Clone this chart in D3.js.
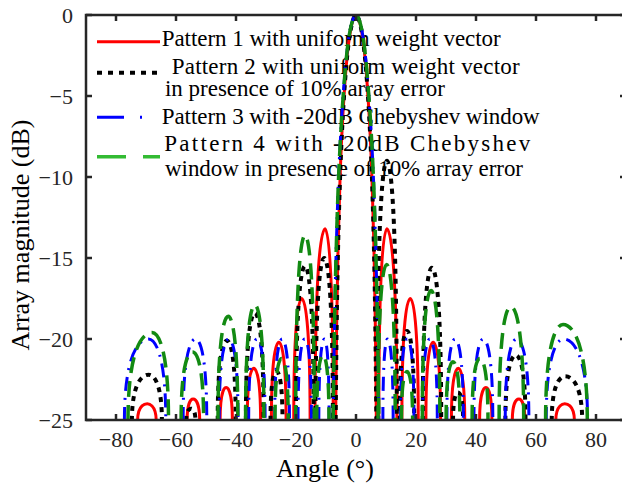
<!DOCTYPE html>
<html><head><meta charset="utf-8">
<script src="https://cdn.jsdelivr.net/npm/d3@7"></script>
<style>body{margin:0;background:#fff}</style></head>
<body><svg id="c" width="622" height="486" font-family="'Liberation Serif', 'Times New Roman', Times, serif"></svg>
<script>
// ---- data (angle in degrees, magnitude in dB) ----
const xTicks = [-80, -60, -40, -20, 0, 20, 40, 60, 80];
const yTicks = [0, -5, -10, -15, -20, -25];

// main lobes: [angle, dB]
const mainUniform = [[-6.78,-25],[-6.5,-20],[-6.05,-15],[-5.3,-10],[-4.32,-6],[-3.18,-3],[-1.86,-1],[0,0],[1.86,-1],[3.18,-3],[4.32,-6],[5.3,-10],[6.05,-15],[6.5,-20],[6.78,-25]];
const mainCheb = [[-7.63,-25],[-7.25,-20],[-6.67,-15],[-5.8,-10],[-4.65,-6],[-3.4,-3],[-2.01,-1],[0,0],[2.01,-1],[3.4,-3],[4.65,-6],[5.8,-10],[6.67,-15],[7.25,-20],[7.63,-25]];

// side lobes: [left foot angle at -25 dB, peak angle, peak dB, right foot angle at -25 dB]
const lobesP1 = [
  [-72.8,-69.6,-24.0,-66.6],[-56.3,-54.3,-23.7,-52.1],[-45.3,-43.3,-23.0,-41.2],[-36.25,-34.1,-21.8,-31.8],
  [-28.2,-25.7,-20.2,-23.3],[-20.75,-18.1,-17.5,-15.3],[-13.65,-10.3,-13.2,-7.6],
  [7.6,10.3,-13.2,13.65],[15.3,18.1,-17.5,20.75],[23.3,25.7,-20.2,28.2],[31.8,34.1,-21.8,36.25],
  [41.2,43.3,-23.0,45.3],[52.1,54.3,-23.7,56.3],[66.6,69.6,-24.0,72.8]
];
const lobesP2 = [
  [-74.7,-69.1,-22.2,-64.7],[-56.6,-55.0,-24.3,-53.5],[-46.1,-43.0,-20.1,-40.1],[-36.7,-33.7,-18.4,-30.8],
  [-28.5,-26.5,-22.0,-24.5],[-20.0,-17.0,-15.5,-14.1],[-13.5,-10.6,-15.0,-7.7],
  [7.04,10.3,-9.0,13.6],[14.6,17.0,-19.5,19.4],[22.25,25.3,-15.6,28.4],[32.35,34.0,-23.3,35.7],
  [49.8,53.3,-21.0,56.5],[65.25,69.7,-22.3,75.4]
];
const lobesP3 = [
  [-77.2,-69.2,-20,-63.4],[-57.63,-53.5,-20,-49.74],[-45.61,-42.4,-20,-39.31],[-35.78,-33.0,-20,-30.3],
  [-27.1,-24.6,-20,-22.18],[-19.33,-17.1,-20,-14.85],[-12.39,-10.5,-20,-8.96],
  [8.96,10.5,-20,12.39],[14.85,17.1,-20,19.33],[22.18,24.6,-20,27.1],[30.3,33.0,-20,35.78],
  [39.31,42.4,-20,45.61],[49.74,53.5,-20,57.63],[63.4,69.2,-20,77.2]
];
const lobesP4 = [
  [-76.0,-68.0,-19.6,-62.5],[-58.3,-54.5,-20.8,-50.8],[-46.0,-42.6,-18.6,-39.4],[-36.8,-33.7,-17.9,-30.7],
  [-27.0,-24.8,-21.2,-22.6],[-20.1,-17.0,-13.6,-13.9],[-13.1,-11.0,-21.0,-9.0],
  [7.35,10.2,-15.4,13.07],[15.14,17.0,-22.0,18.88],[22.11,25.0,-17.0,27.96],[30.04,32.3,-21.4,34.63],
  [38.7,41.3,-21.2,44.0],[47.7,51.6,-18.0,55.9],[63.2,69.0,-19.1,77.1]
];

const legendLabels = [
  ["Pattern 1 with uniform weight vector"],
  ["Pattern 2 with uniform weight vector", "in presence of 10% array error"],
  ["Pattern 3 with -20dB Chebyshev window"],
  ["Pattern 4 with -20dB Chebyshev", "window in presence of 10% array error"]
];
const xTitle = "Angle (°)";
const yTitle = "Array magnitude (dB)";

// ---- drawing ----
const svg = d3.select('#c');
const x = d3.scaleLinear().domain([-90, 90]).range([86, 626]);
const y = d3.scaleLinear().domain([-25, 0]).range([420, 15]);
const axisColor = '#262626';

svg.append('defs').append('clipPath').attr('id','clip')
  .append('rect').attr('x',86).attr('y',15).attr('width',540).attr('height',405);

const series = [
  {main: mainUniform, lobes: lobesP1, color:'#ff0000', width:3,   dash:null,        legendDash:null,          ly:41.7},
  {main: mainUniform, lobes: lobesP2, color:'#000000', width:4,   dash:'5,5',       legendDash:'5,6',         ly:72.7},
  {main: mainCheb,    lobes: lobesP3, color:'#0000ff', width:3,   dash:'14,7,2,7',  legendDash:'27,16,2,30',  ly:117.3},
  {main: mainCheb,    lobes: lobesP4, color:'#128a12', width:3.5, dash:'16,8',      legendDash:'29,17',       ly:156.7, legendColor:'#33bb33'}
];

// legend text (drawn below the curves)
const legendText = [
  {t: legendLabels[0][0], x:161.7, y:46,  w:339},
  {t: legendLabels[1][0], x:171.7, y:73.5,w:348},
  {t: legendLabels[1][1], x:165,   y:95.5,w:280},
  {t: legendLabels[2][0], x:161.7, y:124, w:378},
  {t: legendLabels[3][0], x:164.3, y:150.5,w:366},
  {t: legendLabels[3][1], x:165,   y:175.5,w:358}
];
const lg = svg.append('g');
legendText.forEach(d => {
  lg.append('text').attr('x', d.x).attr('y', d.y).attr('font-size', 23)
    .attr('textLength', d.w).attr('lengthAdjust','spacing').text(d.t);
});
series.forEach(s => {
  lg.append('line').attr('x1',97).attr('x2',160).attr('y1',s.ly).attr('y2',s.ly)
    .attr('stroke', s.legendColor || s.color).attr('stroke-width', s.width)
    .attr('stroke-dasharray', s.legendDash);
});

// curves
const line = d3.line().x(d => x(d[0])).y(d => y(d[1])).curve(d3.curveNatural);
function lobePath(l) {
  const x0 = x(l[0]), xp = x(l[1]), x1 = x(l[3]), yb = y(-25), yp = y(l[2]);
  const p = d3.path();
  p.moveTo(x0, yb + 1);
  p.bezierCurveTo(x0, yp, x0 + 0.9 * (xp - x0), yp, xp, yp);
  p.bezierCurveTo(x1 - 0.9 * (x1 - xp), yp, x1, yp, x1, yb + 1);
  return p.toString();
}
const plot = svg.append('g').attr('clip-path','url(#clip)');
series.forEach(s => {
  const g = plot.append('g').attr('fill','none').attr('stroke', s.color)
    .attr('stroke-width', s.width).attr('stroke-dasharray', s.dash);
  g.append('path').attr('d', line(s.main));
  s.lobes.forEach(l => g.append('path').attr('d', lobePath(l)));
});

// axes box and ticks
const ax = svg.append('g').attr('stroke', axisColor).attr('stroke-width', 2.5);
ax.append('rect').attr('x', x(-90)).attr('y', y(0)).attr('width', x(90)-x(-90)).attr('height', y(-25)-y(0)).attr('fill','none');
xTicks.forEach(t => {
  ax.append('line').attr('x1', x(t)).attr('x2', x(t)).attr('y1', y(-25)).attr('y2', y(-25)-6);
  ax.append('line').attr('x1', x(t)).attr('x2', x(t)).attr('y1', y(0)).attr('y2', y(0)+6);
});
yTicks.forEach(t => {
  ax.append('line').attr('x1', x(-90)).attr('x2', x(-90)+6).attr('y1', y(t)).attr('y2', y(t));
  ax.append('line').attr('x1', x(90)).attr('x2', x(90)-6).attr('y1', y(t)).attr('y2', y(t));
});

const fmt = t => (t < 0 ? '\u2212' : '') + Math.abs(t);
const lab = svg.append('g').attr('font-size', 22).attr('fill', '#262626');
xTicks.forEach(t => {
  lab.append('text').attr('x', x(t)).attr('y', 447).attr('text-anchor','middle').text(fmt(t));
});
yTicks.forEach(t => {
  lab.append('text').attr('x', 73).attr('y', y(t) + 7.5).attr('text-anchor','end').text(fmt(t));
});
svg.append('text').attr('x', 325).attr('y', 477).attr('text-anchor','middle').attr('font-size', 26).text(xTitle);
svg.append('text').attr('transform','translate(29,235) rotate(-90)').attr('text-anchor','middle').attr('font-size', 26).text(yTitle);
</script></body></html>
